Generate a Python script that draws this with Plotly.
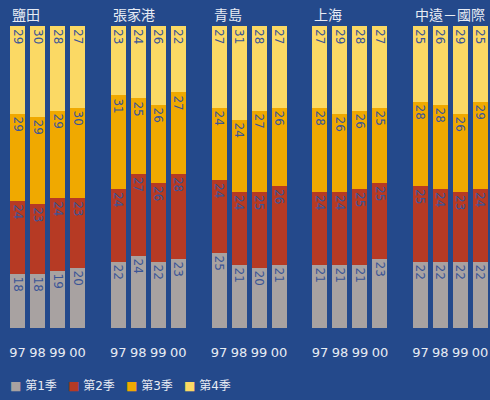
import plotly.graph_objects as go
from plotly.subplots import make_subplots

PORTS = ["鹽田", "張家港", "青島", "上海", "中遠－國際"]
YEARS = ["97", "98", "99", "00"]
QUARTERS = ["第1季", "第2季", "第3季", "第4季"]

# share of yearly throughput by quarter (%), per port, years 97..00
Q1 = [[18, 18, 19, 20], [22, 24, 22, 23], [25, 21, 20, 21], [21, 21, 21, 23], [22, 22, 22, 22]]
Q2 = [[24, 23, 24, 23], [24, 27, 26, 28], [24, 24, 25, 26], [24, 24, 25, 25], [25, 24, 23, 24]]
Q3 = [[29, 29, 29, 30], [31, 25, 26, 27], [24, 24, 27, 26], [28, 26, 26, 25], [28, 28, 26, 29]]
Q4 = [[29, 30, 28, 27], [23, 24, 26, 22], [27, 31, 28, 27], [27, 29, 28, 27], [25, 26, 29, 25]]

COLORS = ["#a8a2a1", "#b63a24", "#f0a900", "#fbd964"]
BG = "#24498b"
FONT = "DejaVu Sans, Noto Sans CJK TC"
LIGHT = "#e8ecf4"

fig = make_subplots(rows=1, cols=5)

series = [Q1, Q2, Q3, Q4]
for p, port in enumerate(PORTS):
    for q, quarter in enumerate(QUARTERS):
        vals = series[q][p]
        fig.add_trace(
            go.Bar(
                x=YEARS, y=vals, name=quarter, marker=dict(color=COLORS[q], line_width=0),
                text=[str(v) for v in vals], textposition="inside", insidetextanchor="end",
                textangle=90, constraintext="none",
                textfont=dict(color="#3a5597", size=12, family=FONT),
                showlegend=False, hoverinfo="skip",
            ),
            row=1, col=p + 1,
        )

W = 490
starts = [7.5, 108.3, 209.1, 309.9, 410.5]
layout = {}
for i, s in enumerate(starts):
    suffix = "" if i == 0 else str(i + 1)
    layout["xaxis" + suffix] = dict(
        domain=[s / W, min((s + 80) / W, 1.0)], showgrid=False, zeroline=False,
        showline=False, ticks="", tickfont=dict(color=LIGHT, size=13, family=FONT),
        ticklabelstandoff=15, fixedrange=True,
    )
    layout["yaxis" + suffix] = dict(range=[0, 100], visible=False, fixedrange=True)

for i, port in enumerate(PORTS):
    fig.add_annotation(
        x=(starts[i] + 2.5) / W, y=1.04, xref="paper", yref="paper",
        text=port, showarrow=False, xanchor="left", yanchor="middle",
        font=dict(color=LIGHT, size=14, family="Noto Sans CJK TC"),
    )

# legend drawn as coloured squares + labels
for q, quarter in enumerate(QUARTERS):
    fig.add_annotation(
        x=(8 + 58 * q) / W, y=-0.189, xref="paper", yref="paper",
        text=f"<span style='color:{COLORS[q]}'>■</span> {quarter}",
        showarrow=False, xanchor="left", yanchor="middle",
        font=dict(color=LIGHT, size=12, family=FONT),
    )

fig.update_layout(
    **layout,
    barmode="stack",
    bargap=0.25,
    width=490,
    height=400,
    margin=dict(l=0, r=0, t=26, b=72),
    paper_bgcolor=BG,
    plot_bgcolor=BG,
    font=dict(family=FONT),
    showlegend=False,
)

fig.write_html(
    "out.html",
    config={"displayModeBar": False},
    post_script="document.body.style.margin='0';document.body.style.overflow='hidden';",
)
